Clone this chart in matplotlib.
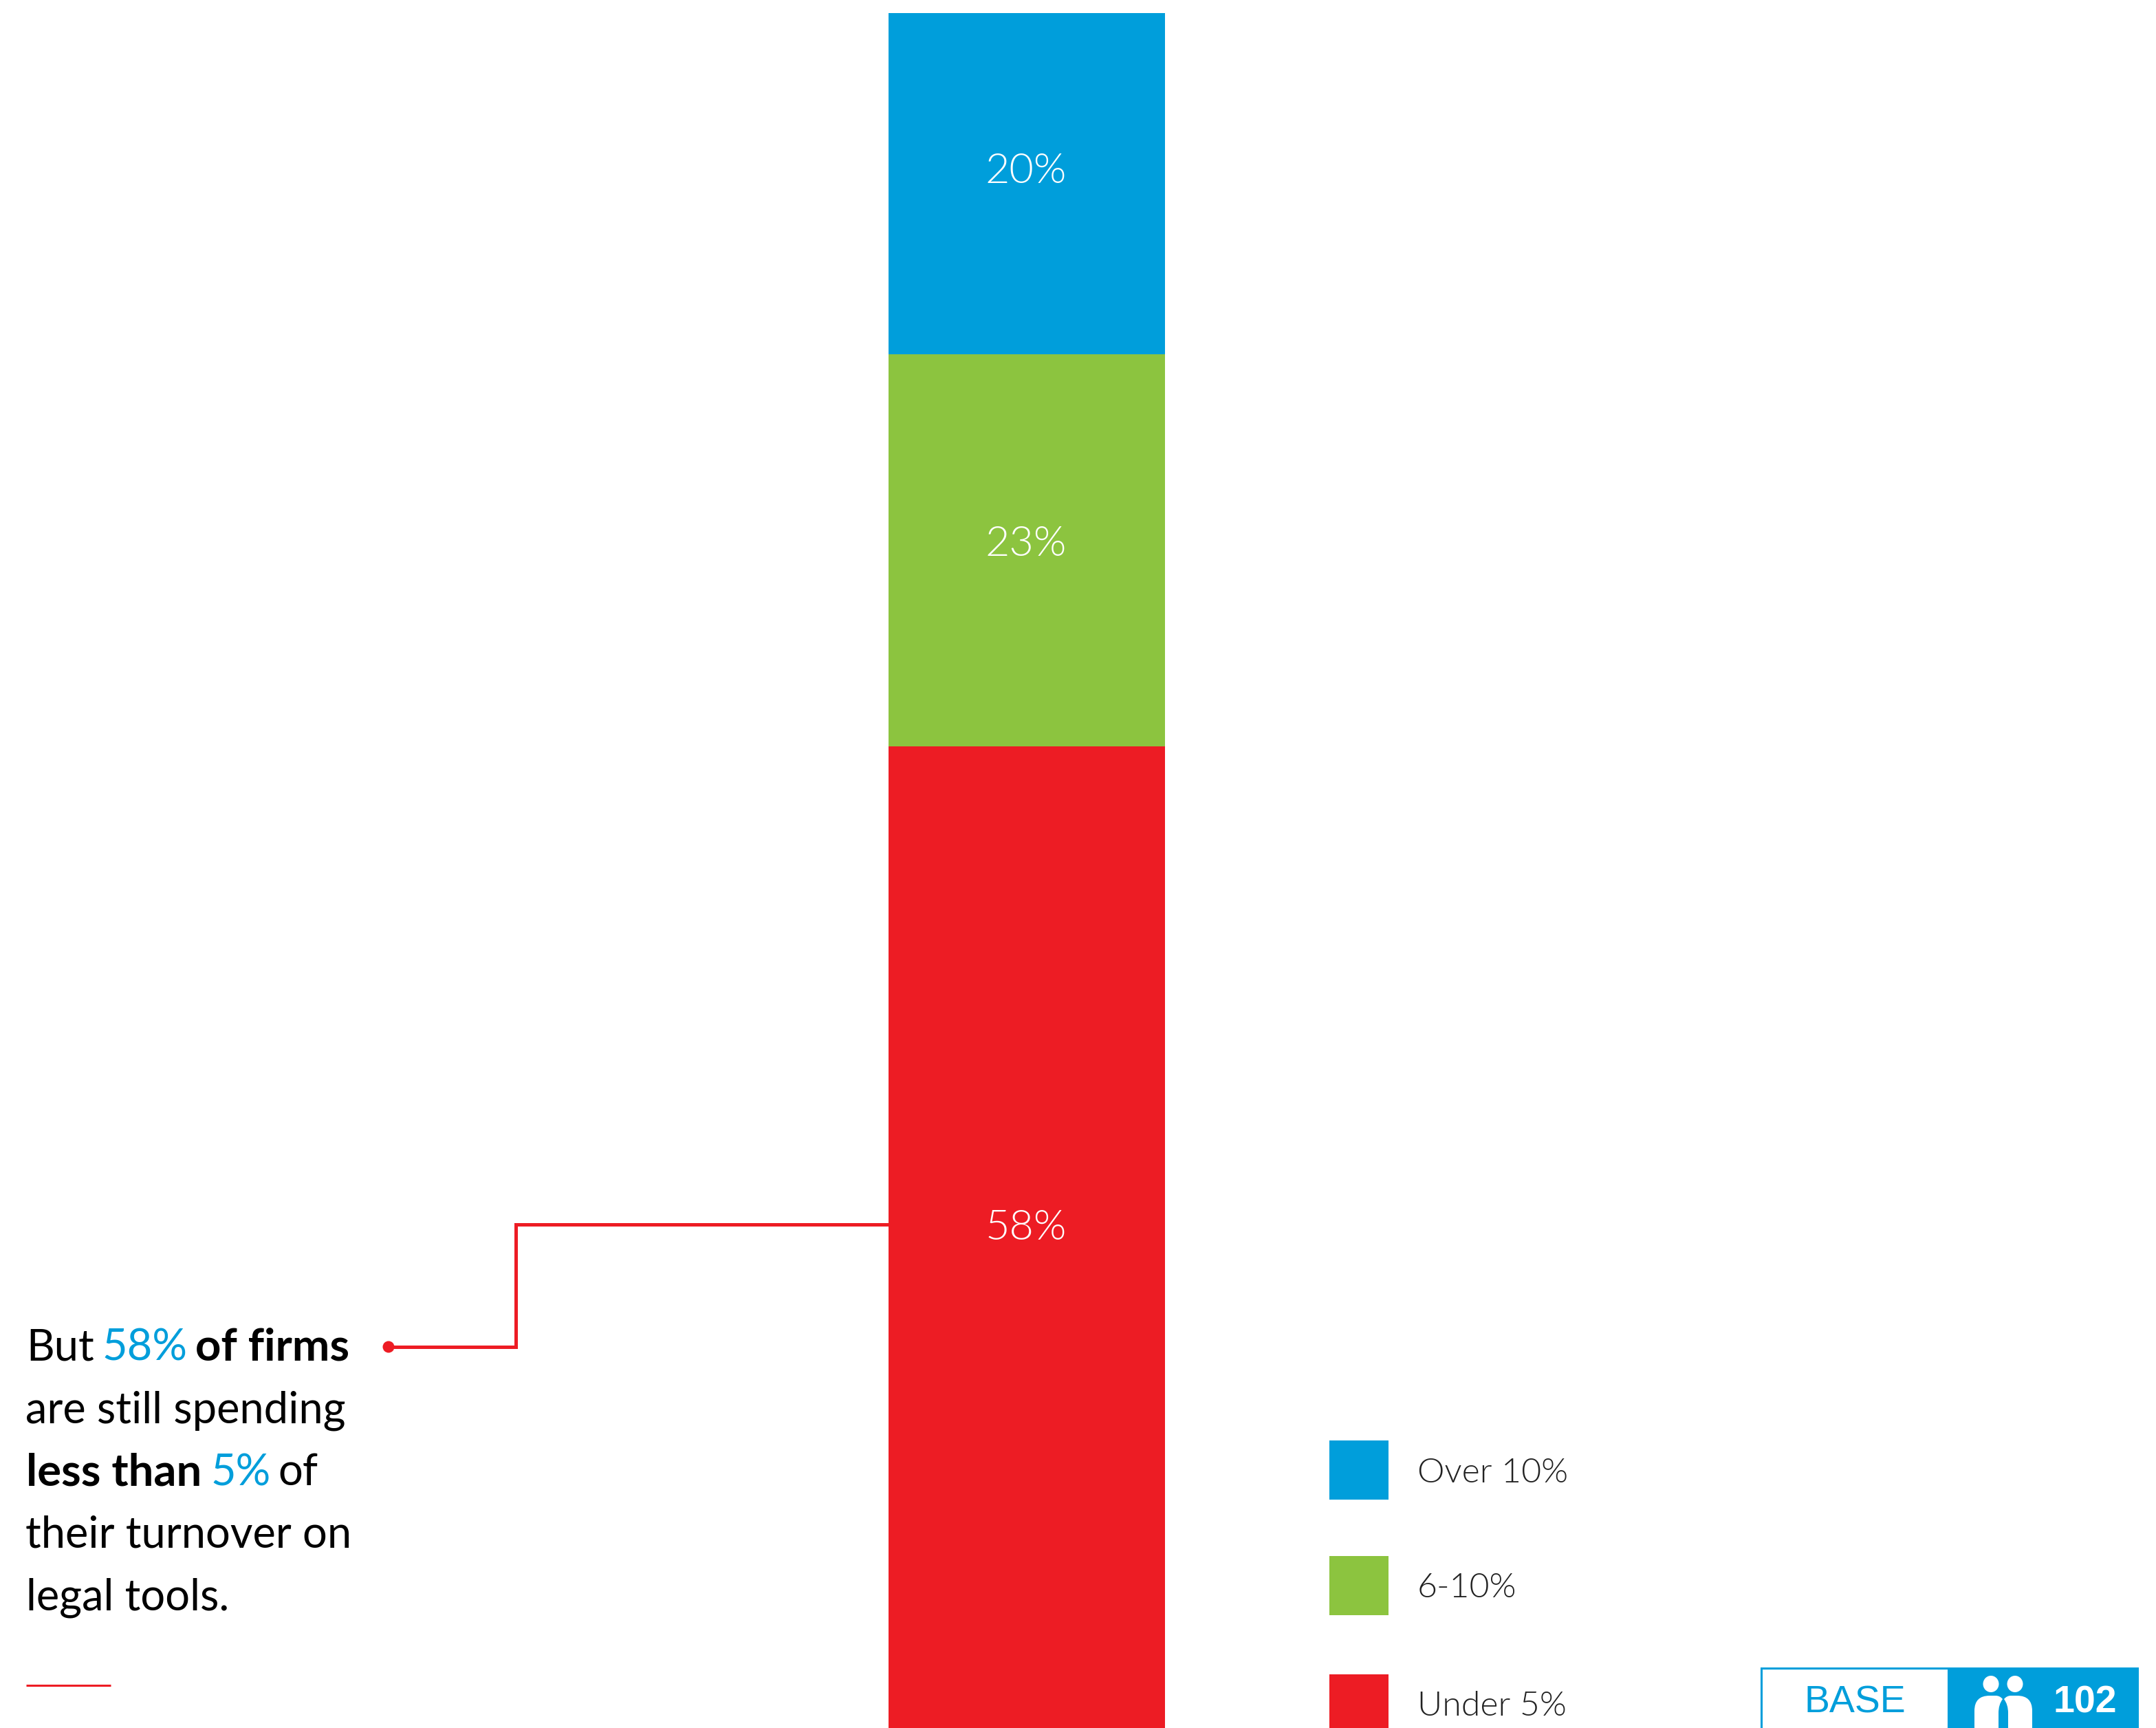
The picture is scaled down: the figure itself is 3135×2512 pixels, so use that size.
import matplotlib
matplotlib.use("Agg")
import matplotlib.pyplot as plt
from matplotlib.patches import Rectangle, Ellipse, PathPatch
from matplotlib.path import Path

W, H = 3135, 2512
BLUE, GREEN, RED = "#009EDB", "#8CC43F", "#ED1C24"

# data
categories = ["Over 10%", "6-10%", "Under 5%"]
values = [20, 23, 58]
colors = [BLUE, GREEN, RED]
value_label_y = [250, 792, 1786]   # layout, px
legend_y = [2094, 2262, 2434]
legend_base = [2155, 2322, 2494]

BODY = "Lato"
fig = plt.figure(figsize=(W / 100, H / 100), dpi=100, facecolor="white")

# stacked bar, top-down, clipped by the figure's bottom edge like the reference
axb = fig.add_axes([1291.5 / W, 0, 402.5 / W, (H - 19) / H])
axb.set_xlim(0, 1)
axb.set_ylim(100.6, 0)
axb.axis("off")
bottom = 0
for v, c, n in zip(values, colors, categories):
    axb.bar(0.5, v, width=1, bottom=bottom, color=c, linewidth=0, label=n)
    bottom += v

# overlay in pixel coordinates for annotation and legend
ax = fig.add_axes([0, 0, 1, 1], zorder=3)
ax.set_xlim(0, W)
ax.set_ylim(H, 0)
ax.axis("off")
ax.patch.set_alpha(0)

def t(x, y, s, size=45.5, color="black", weight="normal", family=BODY, ha="left", va="baseline"):
    return ax.text(x, y, s, fontsize=size, color=color, fontweight=weight,
                   family=family, ha=ha, va=va)

for v, y in zip(values, value_label_y):
    t(1492, y, f"{v}%", size=44, color="white", weight=300, ha="center", va="center")

# connector
ax.plot([565, 750, 750, 1292], [1958, 1958, 1780, 1780], color=RED, lw=3.6,
        solid_joinstyle="miter", solid_capstyle="butt")
ax.add_patch(Ellipse((565, 1958), 17, 17, color=RED, lw=0))
ax.plot([38, 161], [2450, 2450], color=RED, lw=2.2, solid_capstyle="butt")

# callout text
B = 1978
P = 90.5
t(38, B, "But")
t(148, B, "58%", color=BLUE, size=45.5)
t(284, B, "of firms", weight="bold", size=47)
t(37, B + P, "are still spending")
t(38, B + 2 * P, "less than", weight="bold", size=47)
t(307, B + 2 * P, "5%", color=BLUE, size=45.5)
t(404, B + 2 * P, "of")
t(37, B + 3 * P, "their turnover on")
t(38, B + 4 * P, "legal tools.")

# legend
for c, n, y, by in zip(colors, categories, legend_y, legend_base):
    ax.add_patch(Rectangle((1933, y), 86, 86, color=c, lw=0))
    t(2061, by, n, size=36, color="#222222", weight=300)

# base box
ax.add_patch(Rectangle((2561, 2425), 272, 100, fc="white", ec=BLUE, lw=2.2))
ax.add_patch(Rectangle((2833, 2424), 277, 100, fc=BLUE, ec=BLUE, lw=0))
t(2697, 2489, "BASE", size=40, color=BLUE, weight="normal", family="Liberation Sans", ha="center")
t(3032, 2489, "102", size=40, color="white", weight="bold", family="Liberation Sans", ha="center")

# people icon
ax.add_patch(Ellipse((2895, 2448), 23, 24, color="white", lw=0))
ax.add_patch(Ellipse((2930, 2448), 23, 24, color="white", lw=0))
M, L, C = Path.MOVETO, Path.LINETO, Path.CURVE3
left = Path([(2871, 2520), (2871, 2487), (2871, 2465), (2893, 2465), (2902, 2465), (2908, 2465), (2912, 2470),
             (2906, 2478), (2906, 2490), (2906, 2520), (2871, 2520)],
            [M, L, C, C, L, C, C, C, C, L, Path.CLOSEPOLY])
right = Path([(2955, 2520), (2955, 2487), (2955, 2465), (2933, 2465), (2924, 2465), (2918, 2465), (2914, 2470),
              (2920, 2478), (2920, 2490), (2920, 2520), (2955, 2520)],
             [M, L, C, C, L, C, C, C, C, L, Path.CLOSEPOLY])
ax.add_patch(PathPatch(left, fc="white", ec="none"))
ax.add_patch(PathPatch(right, fc="white", ec="none"))

fig.savefig("out.png", dpi=100, facecolor="white")
